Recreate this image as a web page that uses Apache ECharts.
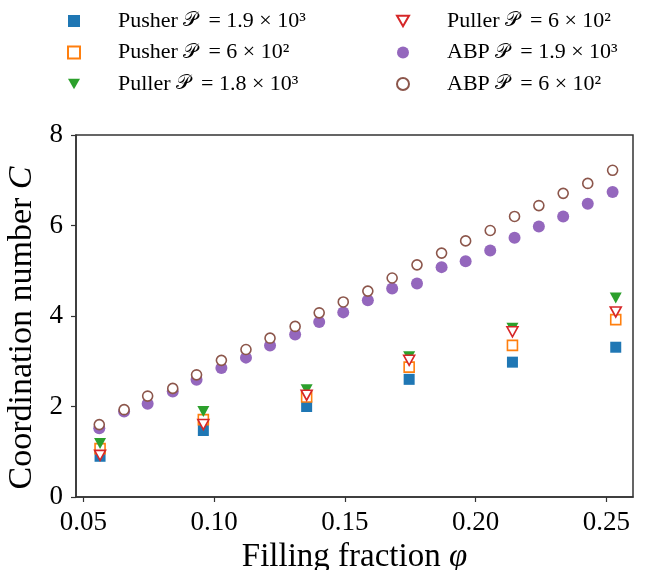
<!DOCTYPE html>
<html>
<head>
<meta charset="utf-8">
<script src="https://cdn.jsdelivr.net/npm/echarts@6/dist/echarts.min.js"></script>
<style>
  html, body { margin: 0; padding: 0; background: #fff; }
  #chart { width: 646px; height: 570px; }
</style>
</head>
<body>
<div id="chart"></div>
<script>
// ABP runs: fine sweep in filling fraction
const abpPhi = [0.0561, 0.0656, 0.0746, 0.0842, 0.0933, 0.1028, 0.1122, 0.1214, 0.1310, 0.1402, 0.1494,
  0.1588, 0.1681, 0.1776, 0.1870, 0.1962, 0.2056, 0.2149, 0.2242, 0.2335, 0.2429, 0.2524];
const abpHigh = [1.52, 1.89, 2.06, 2.33, 2.59, 2.85, 3.08, 3.35, 3.59, 3.87, 4.08,
  4.35, 4.61, 4.72, 5.08, 5.21, 5.45, 5.73, 5.98, 6.20, 6.48, 6.74];
const abpLow = [1.60, 1.93, 2.23, 2.40, 2.70, 3.02, 3.26, 3.51, 3.77, 4.07, 4.31,
  4.55, 4.84, 5.13, 5.39, 5.66, 5.89, 6.20, 6.44, 6.71, 6.93, 7.22];

// squirmer runs: coarse sweep
const swimPhi = [0.0564, 0.0959, 0.1354, 0.1746, 0.2141, 0.2536];
const pusherHigh = [0.90, 1.47, 2.00, 2.60, 2.98, 3.31];
const pusherLow = [1.07, 1.71, 2.21, 2.87, 3.35, 3.92];
const pullerHigh = [1.18, 1.89, 2.37, 3.10, 3.73, 4.40];
const pullerLow = [0.92, 1.60, 2.25, 3.02, 3.65, 4.09];

const xTicks = [0.05, 0.10, 0.15, 0.20, 0.25];
const yTicks = [0, 2, 4, 6, 8];

const SERIF = '"Liberation Serif", "DejaVu Serif", serif';
// pointing-down triangle (matplotlib 'v')
const DOWN_TRI = 'path://M0,0L20,0L10,17.32Z';

const zip = (xs, ys) => xs.map((x, i) => [x, ys[i]]);

const chart = echarts.init(document.getElementById('chart'));

function scat(name, xs, ys, symbol, color, hollow, size) {
  return {
    name: name,
    type: 'scatter',
    data: zip(xs, ys),
    symbol: symbol,
    symbolSize: size,
    itemStyle: hollow
      ? { color: '#fff', borderColor: color, borderWidth: 1.6, opacity: 1 }
      : { color: color, opacity: 1 },
    emphasis: { disabled: true }
  };
}

const legendText = {
  fontFamily: SERIF,
  fontSize: 22,
  color: '#000',
  lineHeight: 22,
  padding: [0, 0, 0, 33],
  rich: {
    i: { fontFamily: 'DejaVu Serif, serif', fontSize: 20, lineHeight: 22 }
  }
};

const fmt = (n) => {
  const parts = n.split(' P ');
  return parts[0] + ' {i|𝒫}  ' + parts[1];
};

const legendBase = {
  top: 10, orient: 'vertical', itemGap: 9.5, padding: 0,
  itemWidth: 12, itemHeight: 12,
  formatter: fmt,
  textStyle: legendText
};

const option = {
  animation: false,
  backgroundColor: '#fff',
  legend: [
    Object.assign({ left: 67, data: ['Pusher P = 1.9 × 10³', 'Pusher P = 6 × 10²', 'Puller P = 1.8 × 10³'] }, legendBase),
    Object.assign({ left: 396, data: ['Puller P = 6 × 10²', 'ABP P = 1.9 × 10³', 'ABP P = 6 × 10²'] }, legendBase)
  ],
  grid: {
    left: 76, right: 13, top: 135, bottom: 73,
    outerBoundsMode: 'none',
    containLabel: false,
    show: true, borderColor: '#333', borderWidth: 1.5, backgroundColor: 'transparent'
  },
  xAxis: {
    type: 'value',
    min: 0.0472, max: 0.2602,
    name: 'Filling fraction {i|φ}',
    nameLocation: 'middle',
    nameGap: 41,
    nameTextStyle: {
      fontFamily: SERIF, fontSize: 33, color: '#000',
      rich: { i: { fontFamily: SERIF, fontStyle: 'italic', fontSize: 33 } }
    },
    splitLine: { show: false },
    axisLine: { show: true, onZero: false, lineStyle: { color: '#333', width: 1.5 } },
    axisTick: { show: true, length: 5, lineStyle: { color: '#333', width: 1.2 }, customValues: xTicks },
    axisLabel: {
      fontFamily: SERIF, fontSize: 27, color: '#000', margin: 12,
      customValues: xTicks,
      formatter: (v) => v.toFixed(2)
    }
  },
  yAxis: {
    type: 'value',
    min: 0, max: 8, interval: 2,
    name: 'Coordination number {i|C}',
    nameLocation: 'middle',
    nameGap: 36,
    nameTextStyle: {
      fontFamily: SERIF, fontSize: 34, color: '#000',
      padding: [0, 24, 0, 0],
      rich: { i: { fontFamily: SERIF, fontStyle: 'italic', fontSize: 34 } }
    },
    splitLine: { show: false },
    axisLine: { show: true, lineStyle: { color: '#333', width: 1.5 } },
    axisTick: { show: true, length: 5, lineStyle: { color: '#333', width: 1.2 } },
    axisLabel: {
      fontFamily: SERIF, fontSize: 27, color: '#000', margin: 13,
      customValues: yTicks
    }
  },
  series: [
    scat('Pusher P = 1.9 × 10³', swimPhi, pusherHigh, 'rect', '#1f77b4', false, 11),
    scat('Pusher P = 6 × 10²', swimPhi, pusherLow, 'rect', '#ff7f0e', true, 10),
    scat('Puller P = 1.8 × 10³', swimPhi, pullerHigh, DOWN_TRI, '#2ca02c', false, [12, 11]),
    scat('Puller P = 6 × 10²', swimPhi, pullerLow, DOWN_TRI, '#d62728', true, [11, 10]),
    scat('ABP P = 1.9 × 10³', abpPhi, abpHigh, 'circle', '#9467bd', false, 12),
    scat('ABP P = 6 × 10²', abpPhi, abpLow, 'circle', '#8c564b', true, 10)
  ]
};

chart.setOption(option);
</script>
</body>
</html>
